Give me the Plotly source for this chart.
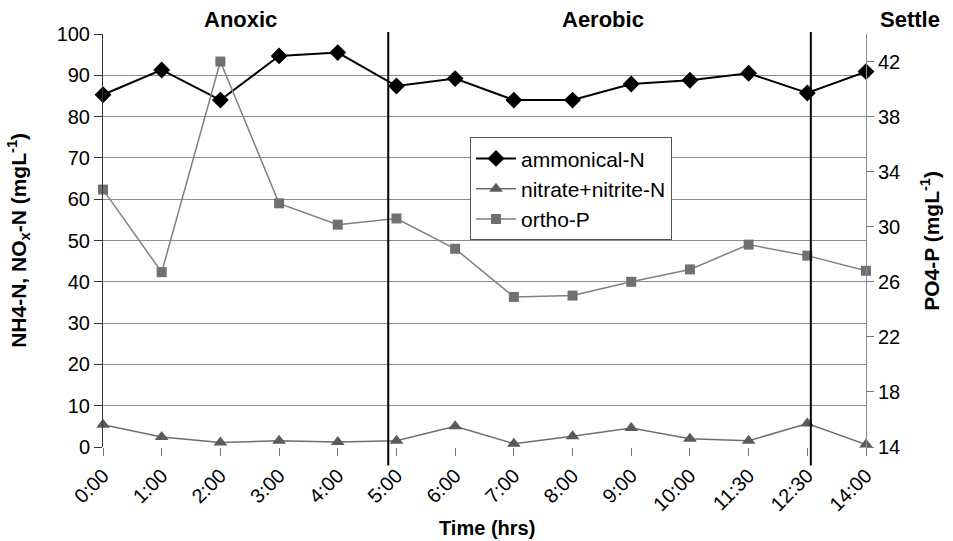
import plotly.graph_objects as go

times = ["0:00", "1:00", "2:00", "3:00", "4:00", "5:00", "6:00", "7:00",
         "8:00", "9:00", "10:00", "11:30", "12:30", "14:00"]
ammonical_n = [85.3, 91.3, 84.0, 94.7, 95.5, 87.4, 89.2, 84.0, 84.0, 87.9, 88.8, 90.5, 85.7, 90.9]
nitrate_nitrite_n = [5.4, 2.4, 1.1, 1.5, 1.2, 1.5, 5.0, 0.8, 2.6, 4.6, 2.0, 1.5, 5.7, 0.6]
ortho_p = [32.7, 26.7, 42.0, 31.7, 30.15, 30.6, 28.4, 24.9, 25.0, 26.0, 26.9, 28.7, 27.9, 26.8]
phase_names = ["Anoxic", "Aerobic", "Settle"]
phase_bounds = [4.86, 12.06]

xi = list(range(len(times)))
FONT = "Liberation Sans, Arial, sans-serif"

fig = go.Figure()
fig.add_trace(go.Scatter(x=xi, y=ammonical_n, name="ammonical-N", mode="lines+markers",
                         line=dict(color="#000000", width=2),
                         marker=dict(symbol="diamond", size=13, color="#000000"),
                         cliponaxis=False))
fig.add_trace(go.Scatter(x=xi, y=nitrate_nitrite_n, name="nitrate+nitrite-N", mode="lines+markers",
                         line=dict(color="#6e6e6e", width=1.5),
                         marker=dict(symbol="triangle-up", size=12, color="#5a5a5a"),
                         cliponaxis=False))
fig.add_trace(go.Scatter(x=xi, y=ortho_p, name="ortho-P", mode="lines+markers", yaxis="y2",
                         line=dict(color="#808080", width=1.5),
                         marker=dict(symbol="square", size=10, color="#707070"),
                         cliponaxis=False))

for b in phase_bounds:
    fig.add_shape(type="line", xref="x", yref="paper", x0=b, x1=b, y0=-0.045, y1=1.005,
                  line=dict(color="#000000", width=2))

phase_x = [0.18, 0.655, 1.058]
for name, px in zip(phase_names, phase_x):
    fig.add_annotation(text="<b>%s</b>" % name, xref="paper", yref="paper", x=px, y=1.034,
                       xanchor="center", yanchor="middle",
                       showarrow=False, font=dict(size=22, color="#000"))

# axis titles
fig.add_annotation(text="<b>NH4-N, NO<sub>x</sub>-N (mgL<sup>-1</sup>)</b>", xref="paper", yref="paper",
                   x=-0.111, y=0.5, xanchor="center", yanchor="middle", textangle=-90,
                   showarrow=False, font=dict(size=21, color="#000"))
fig.add_annotation(text="<b>PO4-P (mgL<sup>-1</sup>)</b>", xref="paper", yref="paper",
                   x=1.083, y=0.5, xanchor="center", yanchor="middle", textangle=-90,
                   showarrow=False, font=dict(size=21, color="#000"))
fig.add_annotation(text="<b>Time (hrs)</b>", xref="paper", yref="paper",
                   x=0.503, y=-0.195, xanchor="center", yanchor="middle",
                   showarrow=False, font=dict(size=20, color="#000"))

fig.update_layout(
    width=953, height=541,
    margin=dict(l=103, r=87, t=34, b=94),
    paper_bgcolor="white", plot_bgcolor="white",
    font=dict(family=FONT, size=20, color="#000"),
    showlegend=True,
    legend=dict(x=0.481, y=0.75, xanchor="left", yanchor="top",
                bgcolor="white", bordercolor="#555", borderwidth=1,
                font=dict(size=21), tracegroupgap=0, itemwidth=40),
    xaxis=dict(range=[0, 13], tickvals=xi, ticktext=times, tickangle=-45,
               showgrid=False, zeroline=False, showline=False,
               ticks="outside", ticklen=8, tickcolor="#777"),
    yaxis=dict(range=[0, 100], tickvals=list(range(0, 101, 10)),
               showgrid=True, gridcolor="#8c8c8c", gridwidth=1, zeroline=False,
               showline=True, linecolor="#333", linewidth=1,
               ticks="outside", ticklen=8, tickcolor="#333"),
    yaxis2=dict(range=[14, 44], tickvals=list(range(14, 43, 4)), overlaying="y", side="right",
                showgrid=False, zeroline=False,
                showline=True, linecolor="#8c8c8c", linewidth=1,
                ticks="outside", ticklen=7, tickcolor="#777"),
)

fig.write_html("out.html")
